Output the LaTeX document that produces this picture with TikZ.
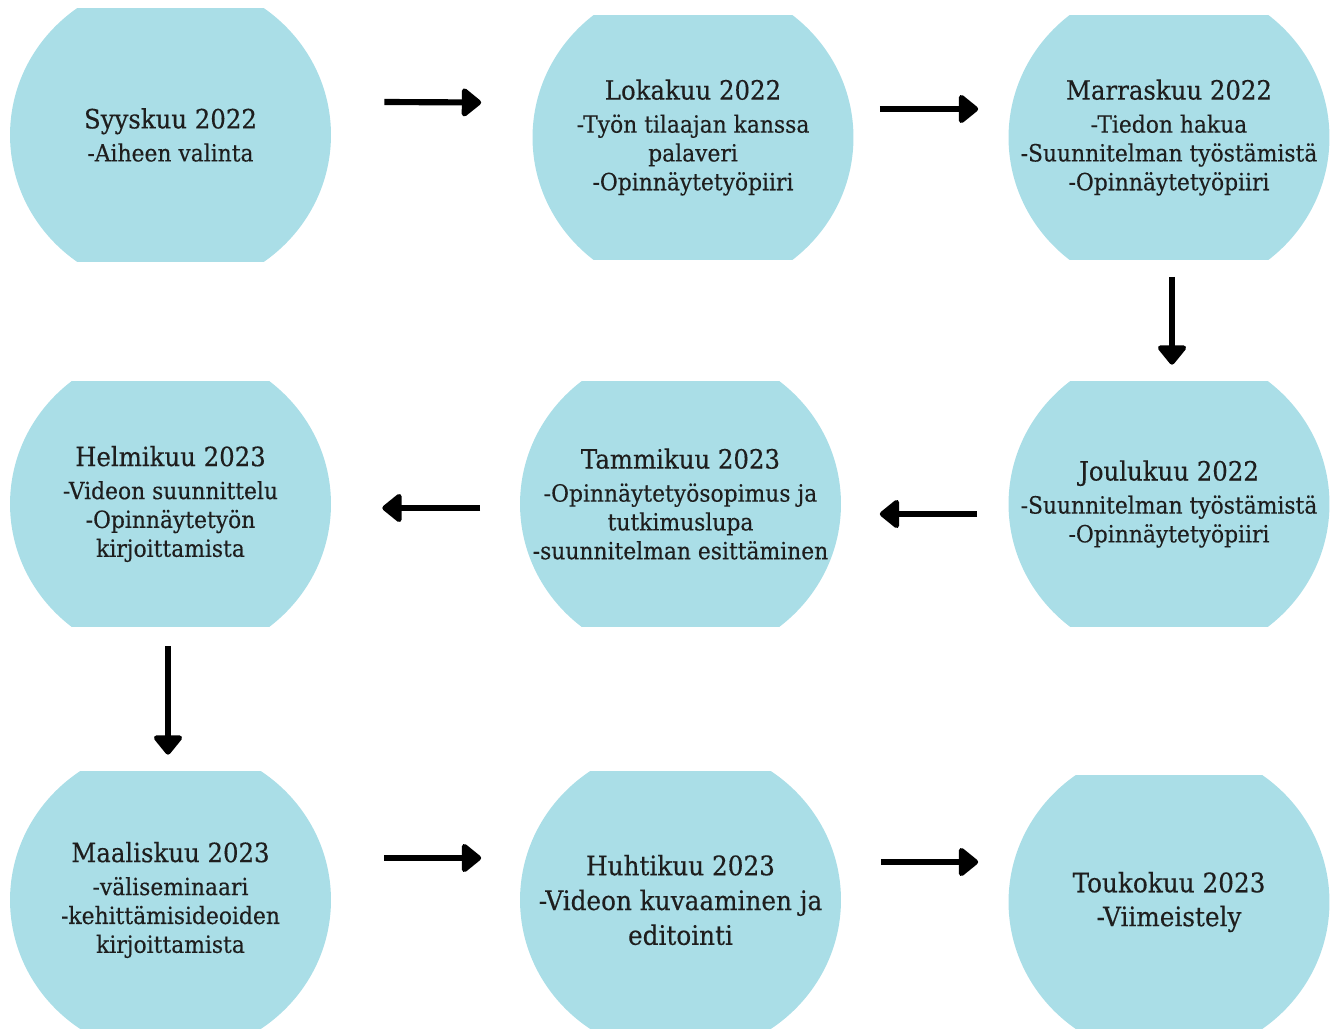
\documentclass[tikz,border=0pt]{standalone}
\usepackage{fontspec}
\setmainfont{DejaVu Serif}[FakeStretch=0.92, FakeBold=0.3]
\usepackage{xcolor}
\usetikzlibrary{positioning,calc,arrows.meta}
\definecolor{kausi}{RGB}{170,222,231}
\definecolor{teksti}{RGB}{30,30,30}

\newcommand{\otsikko}[1]{{\fontsize{15.1}{19}\selectfont #1}\\[2.4pt]}

\begin{document}
\begin{tikzpicture}[x=0.02cm, y=-0.02cm,
    kk/.style={rectangle, minimum width=6.42cm, minimum height=4.9cm, inner sep=0pt, align=center,
        text=teksti, font=\fontsize{13.5}{16.4}\selectfont,
        path picture={\fill[kausi] (path picture bounding box.center) ellipse (3.21cm and 3.12cm);}},
    nuoli/.style={line width=3.5pt, -{Triangle[round, length=12pt, width=18.5pt]}}
]
\useasboundingbox (0,0) rectangle (1338,1030);

% Rivi 1
\node[kk, minimum height=5.08cm] (syys) at (170.5,135) {\otsikko{Syyskuu 2022}-Aiheen valinta};
\node[kk] (loka) at (693,137.5) {\otsikko{Lokakuu 2022}-Työn tilaajan kanssa\\palaveri\\-Opinnäytetyöpiiri};
\node[kk] (mars) at (1169,137.5) {\otsikko{Marraskuu 2022}-Tiedon hakua\\-Suunnitelman työstämistä\\-Opinnäytetyöpiiri};

% Rivi 2
\node[kk] (joulu) at (1169,504) {\otsikko{Joulukuu 2022}-Suunnitelman työstämistä\\-Opinnäytetyöpiiri};
\node[kk] (tammi) at (680.5,504) {\otsikko{Tammikuu 2023}-Opinnäytetyösopimus ja\\tutkimuslupa\\-suunnitelman esittäminen};
\node[kk] (helmi) at (170.5,504) {\otsikko{Helmikuu 2023}-Videon suunnittelu\\-Opinnäytetyön\\kirjoittamista};

% Rivi 3
\node[kk, minimum height=5.16cm] (maali) at (170.5,900) {\otsikko{Maaliskuu 2023}-väliseminaari\\-kehittämisideoiden\\kirjoittamista};
\node[kk, minimum height=5.16cm, font=\fontsize{15.3}{19.8}\selectfont] (huhti) at (680.5,900) {Huhtikuu 2023\\-Videon kuvaaminen ja\\editointi};
\node[kk, minimum height=5.08cm, font=\fontsize{15.3}{19.3}\selectfont] (touko) at (1169,902) {Toukokuu 2023\\-Viimeistely};

% Nuolet
\draw[nuoli] ($(syys.east)+(53,-33)$) -- ($(loka.west)+(-51,-35)$);
\draw[nuoli] ($(loka.east)+(26,-28.5)$) -- ($(mars.west)+(-30,-28.5)$);
\draw[nuoli] ($(mars.south)+(3,16.5)$) -- ($(joulu.north)+(3,-16.5)$);
\draw[nuoli] ($(joulu.west)+(-31,10)$) -- ($(tammi.east)+(38.5,10)$);
\draw[nuoli] ($(tammi.west)+(-39.5,4)$) -- ($(helmi.east)+(51,4)$);
\draw[nuoli] ($(helmi.south)+(-2.5,19.5)$) -- ($(maali.north)+(-2.5,-16)$);
\draw[nuoli] ($(maali.east)+(53,-42)$) -- ($(huhti.west)+(-38.5,-42)$);
\draw[nuoli] ($(huhti.east)+(39.5,-38)$) -- ($(touko.west)+(-30,-40)$);
\end{tikzpicture}
\end{document}
